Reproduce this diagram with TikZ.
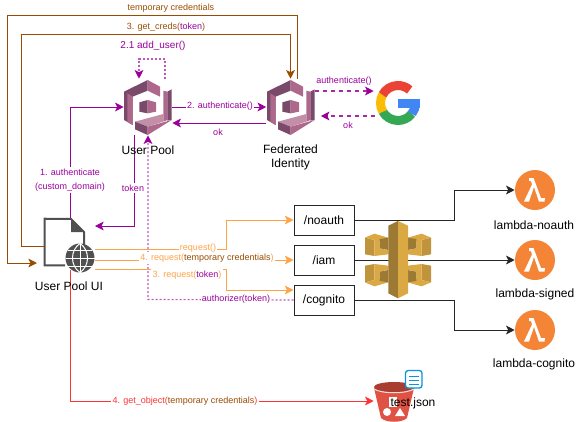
\documentclass[tikz,border=0pt]{standalone}
\usepackage{fontspec}
\usepackage{xcolor}
\setmainfont{Liberation Sans}
\usetikzlibrary{arrows.meta}
\definecolor{flowpurple}{HTML}{990099}
\definecolor{flowbrown}{HTML}{994C00}
\definecolor{floworange}{HTML}{FFA347}
\definecolor{flowred}{HTML}{FF3333}
\definecolor{cogdark}{HTML}{7A4A6B}
\definecolor{coglight}{HTML}{AD688B}
\definecolor{gatedark}{HTML}{9D7A34}
\definecolor{gatelight}{HTML}{DBA943}
\definecolor{lambdaorange}{HTML}{F58536}
\definecolor{bucketred}{HTML}{E05243}
\definecolor{docgrey}{HTML}{505050}
\definecolor{gred}{HTML}{EA4335}
\definecolor{gyellow}{HTML}{FBBC05}
\definecolor{ggreen}{HTML}{34A853}
\definecolor{gblue}{HTML}{4285F4}
\tikzset{
  flow/.style={line width=0.75pt,-{Stealth[length=6.5pt,width=6.5pt,inset=1.6pt]}},
  dotflow/.style={draw=flowpurple!65,line width=0.85pt,dash pattern=on 1.5pt off 1.5pt,-{Stealth[length=6.5pt,width=6.5pt,inset=1.6pt,color=flowpurple,sep=0pt]}},
  dashflow/.style={draw=flowpurple!85,line width=0.85pt,dash pattern=on 3pt off 3pt,-{Stealth[length=6.5pt,width=6.5pt,inset=1.6pt,color=flowpurple]}},
  tiny label/.style={font=\fontsize{6.75}{8}\selectfont,inner sep=1pt,align=center},
  big label/.style={font=\fontsize{9}{10.5}\selectfont,inner sep=0pt,align=center},
  routebox/.style={draw=black!85,line width=0.75pt,fill=white,minimum width=45pt,minimum height=22.5pt,inner sep=0pt,font=\fontsize{9}{10.5}\selectfont},
  iconbox/.style={inner sep=0pt,minimum width=36pt,minimum height=42pt},
}
% cognito icon, drawn on a 3x grid
\newcommand{\cogicon}[2]{
  \begin{scope}[shift={(#1,#2)},x=0.25pt,y=-0.25pt]
    \fill[cogdark] (42,65) -- (113,30) -- (113,62) -- (68,80) -- (68,165) -- (42,150) -- cycle;
    \fill[coglight] (52,70) -- (68,80) -- (68,165) -- (52,155) -- cycle;
    \fill[coglight] (113,30) -- (150,50) -- (150,80) -- (113,62) -- cycle;
    \fill[coglight] (160,62) -- (172,65) -- (172,150) -- (160,155) -- cycle;
    \fill[cogdark] (172,65) -- (185,58) -- (185,150) -- (172,152) -- cycle;
    \fill[coglight!75!white] (75,155) -- (160,132) -- (160,155) -- (113,170) -- cycle;
    \fill[cogdark] (75,155) -- (113,170) -- (113,195) -- (75,178) -- cycle;
    \fill[coglight] (113,170) -- (185,150) -- (113,195) -- cycle;
    \fill[cogdark] (88,97) -- (113,90) -- (113,130) -- (88,125) -- cycle;
    \fill[coglight] (113,90) -- (138,97) -- (138,125) -- (113,130) -- cycle;
  \end{scope}
}
\begin{document}
\begin{tikzpicture}[x=0.75pt,y=-0.75pt]
  \useasboundingbox (0,0) rectangle (576,422);
  % main nodes
  \node[iconbox] (pool) at (148,107) {};
  \node[iconbox] (fed) at (290.5,107) {};
  \node[inner sep=0pt,minimum size=33pt] (google) at (398,103) {};
  \node[inner sep=0pt,minimum width=29.25pt,minimum height=34.5pt] (uidoc) at (64.5,242) {};
  \node[circle,inner sep=0pt,minimum size=21.75pt] (web) at (80,258) {};
  \node[routebox] (noauth) at (324,220) {/noauth};
  \node[routebox] (iam) at (324,260) {/iam};
  \node[routebox] (cognito) at (324,300) {/cognito};
  \node[inner sep=0pt,minimum width=30pt,minimum height=29pt] (bucket) at (394,401) {};
  \foreach \y/\n in {190/noauth, 260/signed, 330/cognito} {
    \node[circle,fill=lambdaorange,inner sep=0pt,minimum size=30pt] (lam\n) at (535,\y) {};
    \fill[white,shift={(535,\y)}] (-6,-12) -- (-1.5,-12) -- (6,8) -- (10,8) -- (9.5,11.5) -- (4,11.5) -- (-1,-3) -- (-6,11.5) -- (-11,11.5) -- (-3,-5.5) -- (-4,-9) -- (-6,-9) -- cycle;
  }
  \node[big label] at (534,225) {lambda-noauth};
  \node[big label] at (535,294) {lambda-signed};
  \node[big label] at (534,364) {lambda-cognito};
  % free ends
  \coordinate (credsTop) at (7,15);
  \coordinate (credsIn) at (37,263);
  \coordinate (getLeft) at (45,246);
  \coordinate (getTop) at (21.5,34);
  \coordinate (userTop) at (139,59);
  \coordinate (tokenIn) at (95,226);
  \coordinate (authTurn) at (148,299.5);
  \coordinate (reqA) at (95,249.5);
  \coordinate (reqB) at (95,260);
  \coordinate (reqC) at (95,269.5);
  \coordinate (turnA) at (226,220);
  \coordinate (turnC) at (226,290);
  \coordinate (getOut) at (70,270);
  \coordinate (getTurn) at (70,401);
  \coordinate (lamTurnA) at (454,190);
  \coordinate (lamTurnC) at (454,330);
  % connectors
  \draw[flow,flowbrown] ([xshift=5.6pt]fed.north) |- (credsTop) |- (credsIn);
  \draw[flow,flowbrown] (getLeft) -| (getTop) -| (fed.north);
  \draw[dotflow] ([xshift=12.75pt]pool.north) |- (userTop) -- (userTop |- pool.north);
  \draw[flow,flowpurple] (uidoc.north -| getOut) |- (pool.west);
  \draw[flow,flowpurple] (pool.east) -- (fed.west);
  \draw[flow,flowpurple] ([yshift=-12pt]fed.west) -- ([yshift=-12pt]pool.east);
  \draw[flow,flowpurple] ([xshift=-10.5pt]pool.south) |- (tokenIn);
  \draw[dotflow] (cognito.west) -- (authTurn) -- (pool.south);
  \draw[dashflow] ([yshift=12pt]fed.east) -- ([xshift=-1.5pt,yshift=9pt]google.west);
  \draw[dashflow] ([xshift=-0.5pt,yshift=-9.75pt]google.west) -- ([xshift=4.5pt,yshift=-6.75pt]fed.east);
  \draw[flow,floworange] (reqA) -| (turnA) -- (noauth.west);
  \draw[flow,floworange] (reqB) -- (iam.west);
  \draw[flow,floworange] (reqC) -| (turnC) -- ([yshift=7.5pt]cognito.west);
  \draw[flow,flowred] (getOut) |- (getTurn) -- (bucket.west);
  \draw[flow,black!85] (noauth.east) -| (lamTurnA) -- (lamnoauth.west);
  \draw[flow,black!85] (iam.east) -- (lamsigned.west);
  \draw[flow,black!85] (cognito.east) -| (lamTurnC) -- (lamcognito.west);
  % aws icons
  \cogicon{110}{70}
  \cogicon{253}{70}
  \begin{scope}[shift={(398,260)},x=0.25pt,y=-0.25pt]
    \foreach \sx/\sy in {1/1, -1/1, 1/-1, -1/-1} {
      \begin{scope}[xscale=\sx,yscale=\sy]
        \fill[gatedark!45!gatelight] (-99,-67) -- (-71,-60) -- (-71,-12) -- (-99,-17) -- cycle;
        \fill[gatelight] (-71,-79) -- (-29,-67) -- (-55,-57) -- (-55,-35) -- (-29,-29) -- (-29,-17) -- (-71,-12) -- (-71,-60) -- (-99,-67) -- cycle;
        \fill[gatedark] (-55,-63) -- (-29,-67) -- (-29,-30) -- (-55,-35) -- cycle;
      \end{scope}
    }
    \fill[gatedark] (-29,-103) -- (0,-117) -- (0,115) -- (-29,100) -- cycle;
    \fill[gatelight] (0,-117) -- (30,-103) -- (30,100) -- (0,115) -- cycle;
  \end{scope}
  % document and globe
  \draw[docgrey,line width=1.5pt] (web.west |- uidoc.south) -| (uidoc.west |- uidoc.north) -- (71,219) -- (84,232) -- (84,245);
  \fill[docgrey] (71,219) -- (84,232) -- (71,232) -- cycle;
  \fill[docgrey] (web) circle (14.5);
  \begin{scope}[white,line width=0.75pt]
    \draw (65.5,258) -- (94.5,258);
    \draw (68,250) -- (92,250);
    \draw (68,266) -- (92,266);
    \draw (80,243.5) -- (80,272.5);
    \draw (80,243.5) .. controls (70,250) and (70,266) .. (80,272.5);
    \draw (80,243.5) .. controls (90,250) and (90,266) .. (80,272.5);
  \end{scope}
  % google
  \begin{scope}[shift={(398,103)},y=0.75pt,line width=6.75pt]
    \draw[ggreen] (208:17.5) arc (208:322:17.5);
    \draw[gyellow] (150:17.5) arc (150:210:17.5);
    \draw[gred] (152:17.5) arc (152:48:17.5);
    \draw[gblue] (322:17.5) arc (322:358:17.5);
    \fill[gblue] (0,4) rectangle (21.5,-4.5);
  \end{scope}
  % s3 bucket and file
  \fill[bucketred] (374,388) -- (414,388) -- (407,418) .. controls (402,423) and (386,423) .. (381,418) -- cycle;
  \fill[bucketred!75!black] (394,387) ellipse (20 and 5);
  \draw[white!80!bucketred,line width=0.75pt] (374,389) .. controls (382,394) and (406,394) .. (414,389);
  \fill[white] (389,397) rectangle (397,407);
  \fill[white] (387,412) circle (4);
  \fill[white] (400,408) -- (405,416) -- (395,416) -- cycle;
  \draw[cyan!80!blue,line width=1pt,rounded corners=2pt,fill=white] (405.5,370.5) rectangle (422,388);
  \foreach \y in {376,380,384} {
    \draw[cyan!80!blue,line width=0.75pt] (409,\y) -- (419,\y);
  }
  % texts
  \node[big label] at (148,150) {User Pool};
  \node[big label] at (290.5,157) {Federated\\Identity};
  \node[big label] at (69,286) {User Pool UI};
  \node[big label] at (413,403) {test.json};
  \node[tiny label,text=flowbrown] at (171,8) {temporary credentials};
  \node[tiny label,text=flowbrown] at (166,27) {3. get\_creds(\textcolor{flowpurple}{token})};
  \node[tiny label,text=flowpurple,font=\fontsize{7.5}{9}\selectfont] at (153,46) {2.1 add\_user()};
  \node[tiny label,text=flowpurple,fill=white] at (70,180) {1. authenticate\\[2.5pt](custom\_domain)};
  \node[tiny label,text=flowpurple,fill=white] at (220,106) {2. authenticate()};
  \node[tiny label,text=flowpurple] at (218,132) {ok};
  \node[tiny label,text=flowpurple,fill=white] at (133,188) {token};
  \node[tiny label,text=flowpurple] at (344,81) {authenticate()};
  \node[tiny label,text=flowpurple] at (348,125) {ok};
  \node[tiny label,text=floworange,fill=white] at (198,248) {request()};
  \node[tiny label,text=floworange,fill=white] at (207,258) {4. request(\textcolor{flowbrown}{temporary credentials})};
  \node[tiny label,text=floworange,fill=white] at (187,275) {3. request(\textcolor{flowpurple}{token})};
  \node[tiny label,text=flowpurple,fill=white] at (236,299) {authorizer(token)};
  \node[tiny label,text=flowred,fill=white] at (185,401) {4. get\_object(\textcolor{flowbrown}{temporary credentials})};
\end{tikzpicture}
\end{document}
